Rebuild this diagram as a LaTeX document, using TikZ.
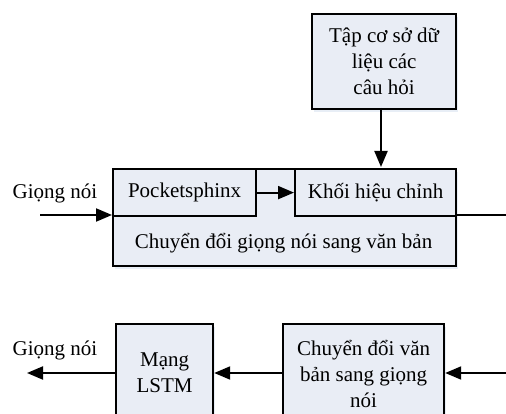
\documentclass[tikz,border=0pt]{standalone}
\usepackage{fontspec}
\setmainfont{Liberation Serif}
\usetikzlibrary{arrows.meta,shadows}
\definecolor{boxfill}{RGB}{233,237,245}
\definecolor{shadowc}{RGB}{190,205,230}
\begin{document}
\begin{tikzpicture}[x=1pt,y=1pt,
  font=\fontsize{21}{26}\selectfont,
  blk/.style={draw=black, line width=2.2pt, fill=boxfill, anchor=north west,
    inner sep=0pt, align=center,
    drop shadow={fill=shadowc, opacity=0.35, shadow xshift=2pt, shadow yshift=-3pt}},
  plain/.style={draw=black, line width=2.2pt, fill=boxfill, anchor=north west, inner sep=0pt, align=center},
  txt/.style={inner sep=0pt, align=center},
  arr/.style={line width=2pt, -{Triangle[length=16pt,width=13pt]}},
  ln/.style={line width=2pt}]
\useasboundingbox (0,0) rectangle (506,-414);
\clip (0,0) rectangle (506,-414);
% top database box
\node[blk, minimum width=144pt, minimum height=95pt] (db) at (311,-13) {Tập cơ sở dữ\\liệu các\\câu hỏi};
% big speech-to-text box
\node[blk, minimum width=343pt, minimum height=97pt] (stt) at (112,-168) {};
\node[plain, minimum width=143pt, minimum height=47pt] (ps) at (112,-168) {Pocketsphinx};
\node[plain, minimum width=161pt, minimum height=47pt] (kh) at (294,-168) {Khối hiệu chỉnh};
\node[txt] (sttlbl) at (283.5,-243) {Chuyển đổi giọng nói sang văn bản};
\node[txt] (in1) at (55,-193) {Giọng nói};
\coordinate (inA) at (40,-215);
\coordinate (outA) at (506,-215);
\draw[arr] (381,-108) -- (381,-167);
\draw[arr] (ps.east) -- (kh.west);
\draw[arr] (inA) -- (inA -| stt.west);
\draw[ln] (inA -| kh.east) -- (outA);
% bottom row
\node[blk, minimum width=161pt, minimum height=100pt] (tts) at (282,-323) {Chuyển đổi văn\\bản sang giọng\\nói};
\node[blk, minimum width=97pt, minimum height=98pt] (lstm) at (115,-323) {Mạng\\LSTM};
\node[txt] (out1) at (55,-350) {Giọng nói};
\coordinate (inB) at (506,-373);
\coordinate (outB) at (27,-373);
\draw[arr] (inB) -- (inB -| tts.east);
\draw[arr] (tts.west |- inB) -- (inB -| lstm.east);
\draw[arr] (lstm.west |- inB) -- (outB);
\end{tikzpicture}
\end{document}
